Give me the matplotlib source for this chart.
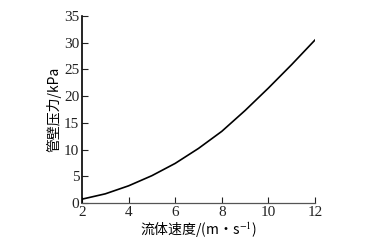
import matplotlib
matplotlib.use("Agg")
import matplotlib.pyplot as plt

# 流体速度 (m/s) 与 管壁压力 (kPa)
speed = [2, 3, 4, 5, 6, 7, 8, 9, 10, 11, 12]
pressure = [0.7, 1.7, 3.2, 5.1, 7.4, 10.2, 13.4, 17.3, 21.5, 25.9, 30.5]
xticks = [2, 4, 6, 8, 10, 12]
yticks = [0, 5, 10, 15, 20, 25, 30, 35]

plt.rcParams["font.family"] = ["Liberation Serif", "Noto Sans CJK SC", "DejaVu Sans"]
plt.rcParams["mathtext.fontset"] = "stix"

fig = plt.figure(figsize=(3.85, 2.43), dpi=100)
ax = fig.add_axes([0.213, 0.165, 0.605, 0.769])

ax.plot(speed, pressure, color="black", linewidth=1.2)

ax.set_xlim(2, 12)
ax.set_ylim(0, 35)
ax.set_xticks(xticks)
ax.set_yticks(yticks)
ax.tick_params(direction="in", length=4, width=0.8, labelsize=11, pad=2, colors="#222222")
ax.spines["top"].set_visible(False)
ax.spines["right"].set_visible(False)
ax.spines["left"].set_linewidth(1.2)
ax.spines["bottom"].set_linewidth(0.9)
ax.spines["bottom"].set_color("#555555")

cjk = ["Noto Sans CJK SC", "Liberation Serif", "DejaVu Sans"]
ax.set_xlabel("流体速度/(m·s$^{-1}$)", fontsize=10, family=cjk, labelpad=1)
ax.set_ylabel("管壁压力/kPa", fontsize=10, family=cjk, labelpad=2)

fig.savefig("out.png", dpi=100, facecolor="white")
